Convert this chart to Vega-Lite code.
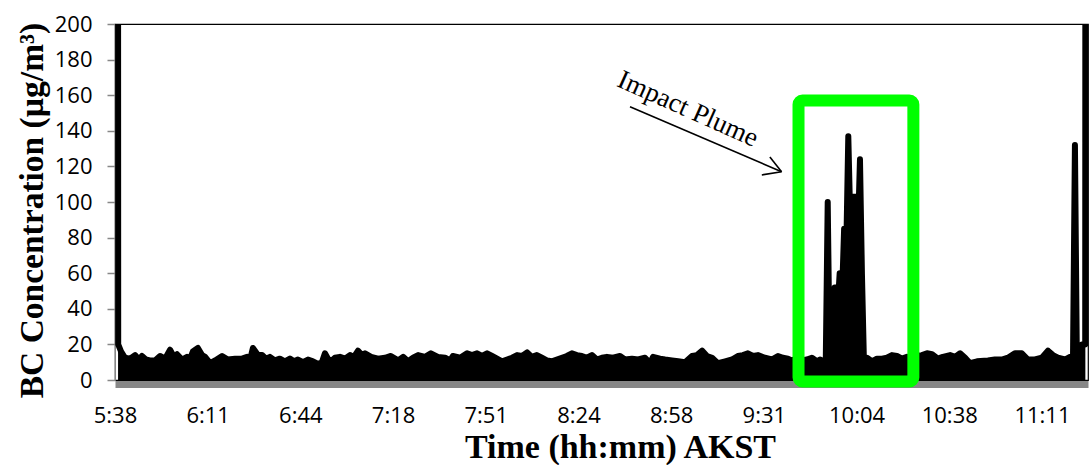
{
  "$schema": "https://vega.github.io/schema/vega-lite/v6.json",
  "width": 973,
  "height": 356,
  "autosize": {"type": "none"},
  "padding": {"left": 115, "top": 24, "right": 3, "bottom": 85},
  "background": "white",
  "config": {
    "view": {"stroke": "#000000", "strokeWidth": 1.2},
    "axis": {"grid": false}
  },
  "datasets": {
    "bc": [
      {"time": 339.1, "conc": 250}, {"time": 339.15, "conc": 20}, {"time": 340.2, "conc": 16}, {"time": 341.6, "conc": 12.5}, {"time": 343.4, "conc": 12},
      {"time": 345.2, "conc": 14}, {"time": 346.6, "conc": 11.5}, {"time": 347.7, "conc": 13.5}, {"time": 349.1, "conc": 11.5},
      {"time": 350.6, "conc": 11}, {"time": 352.4, "conc": 11}, {"time": 354.2, "conc": 13.5}, {"time": 356.0, "conc": 12},
      {"time": 357.8, "conc": 17}, {"time": 359.2, "conc": 13}, {"time": 360.3, "conc": 14.5}, {"time": 362.1, "conc": 11.5},
      {"time": 363.9, "conc": 13}, {"time": 365.0, "conc": 12}, {"time": 366.0, "conc": 16}, {"time": 367.8, "conc": 18},
      {"time": 369.3, "conc": 14}, {"time": 370.4, "conc": 13}, {"time": 372.2, "conc": 9.5}, {"time": 374.0, "conc": 11},
      {"time": 376.5, "conc": 13.5}, {"time": 378.6, "conc": 11.5}, {"time": 381.2, "conc": 12}, {"time": 383.7, "conc": 12},
      {"time": 385.5, "conc": 13}, {"time": 386.5, "conc": 11}, {"time": 387.6, "conc": 18}, {"time": 389.4, "conc": 14},
      {"time": 390.9, "conc": 14}, {"time": 392.3, "conc": 12}, {"time": 393.7, "conc": 13}, {"time": 395.5, "conc": 11},
      {"time": 397.3, "conc": 12}, {"time": 399.1, "conc": 10.5}, {"time": 400.9, "conc": 12}, {"time": 402.4, "conc": 10.5},
      {"time": 403.8, "conc": 11.5}, {"time": 405.6, "conc": 10}, {"time": 407.4, "conc": 11.5}, {"time": 409.2, "conc": 10.5},
      {"time": 411.0, "conc": 9}, {"time": 412.4, "conc": 10}, {"time": 413.5, "conc": 15}, {"time": 414.6, "conc": 12},
      {"time": 415.7, "conc": 10.5}, {"time": 417.1, "conc": 12.5}, {"time": 418.9, "conc": 13}, {"time": 420.7, "conc": 12},
      {"time": 422.5, "conc": 14}, {"time": 423.9, "conc": 13}, {"time": 425.4, "conc": 16.5}, {"time": 426.8, "conc": 14},
      {"time": 427.9, "conc": 15}, {"time": 430.1, "conc": 13}, {"time": 432.6, "conc": 12}, {"time": 435.1, "conc": 12.5},
      {"time": 437.2, "conc": 13.5}, {"time": 439.8, "conc": 11}, {"time": 441.6, "conc": 13}, {"time": 443.4, "conc": 10.5},
      {"time": 445.2, "conc": 12.5}, {"time": 447.0, "conc": 14}, {"time": 449.5, "conc": 13}, {"time": 451.6, "conc": 15},
      {"time": 454.1, "conc": 13}, {"time": 456.7, "conc": 12.5}, {"time": 458.5, "conc": 11}, {"time": 459.5, "conc": 13.5},
      {"time": 462.1, "conc": 12.5}, {"time": 464.6, "conc": 15}, {"time": 466.4, "conc": 14}, {"time": 468.2, "conc": 15},
      {"time": 470.0, "conc": 13.5}, {"time": 471.8, "conc": 15}, {"time": 473.6, "conc": 13.5}, {"time": 475.4, "conc": 12},
      {"time": 477.2, "conc": 10.5}, {"time": 479.0, "conc": 11.5}, {"time": 480.8, "conc": 12.5}, {"time": 482.6, "conc": 14},
      {"time": 484.4, "conc": 13.5}, {"time": 486.2, "conc": 15.5}, {"time": 487.9, "conc": 13}, {"time": 489.7, "conc": 14},
      {"time": 491.5, "conc": 12.5}, {"time": 493.3, "conc": 11}, {"time": 495.1, "conc": 10.5}, {"time": 496.9, "conc": 11.5},
      {"time": 498.7, "conc": 12.5}, {"time": 500.5, "conc": 13.5}, {"time": 502.3, "conc": 15}, {"time": 504.1, "conc": 14},
      {"time": 505.9, "conc": 13.5}, {"time": 507.7, "conc": 12.5}, {"time": 509.5, "conc": 14}, {"time": 511.3, "conc": 11.5},
      {"time": 513.1, "conc": 12.5}, {"time": 514.9, "conc": 13}, {"time": 517.1, "conc": 12.5}, {"time": 519.6, "conc": 13.5},
      {"time": 521.4, "conc": 11.5}, {"time": 523.9, "conc": 12}, {"time": 526.1, "conc": 11.5}, {"time": 528.6, "conc": 12.5},
      {"time": 530.4, "conc": 9.5}, {"time": 531.5, "conc": 13}, {"time": 534.0, "conc": 12}, {"time": 535.8, "conc": 11.5},
      {"time": 538.3, "conc": 11}, {"time": 540.5, "conc": 10.5}, {"time": 543.0, "conc": 10}, {"time": 545.5, "conc": 13.5},
      {"time": 547.3, "conc": 14}, {"time": 549.1, "conc": 16.5}, {"time": 550.9, "conc": 13.5}, {"time": 552.7, "conc": 12.5},
      {"time": 554.8, "conc": 9.5}, {"time": 557.4, "conc": 10.5}, {"time": 559.9, "conc": 11.5}, {"time": 562.0, "conc": 13.5},
      {"time": 563.8, "conc": 14}, {"time": 565.6, "conc": 15}, {"time": 567.4, "conc": 13.5}, {"time": 569.2, "conc": 14},
      {"time": 571.7, "conc": 12.5}, {"time": 574.2, "conc": 11.5}, {"time": 576.4, "conc": 13.5}, {"time": 578.2, "conc": 12.5},
      {"time": 580.0, "conc": 12}, {"time": 581.4, "conc": 11}, {"time": 583.2, "conc": 12}, {"time": 585.0, "conc": 11},
      {"time": 586.8, "conc": 11.5}, {"time": 588.6, "conc": 12.5}, {"time": 590.4, "conc": 10.5}, {"time": 591.5, "conc": 11.5},
      {"time": 592.9, "conc": 10.5}, {"time": 593.6, "conc": 11}, {"time": 594.3, "conc": 100}, {"time": 595.0, "conc": 11},
      {"time": 596.1, "conc": 11}, {"time": 596.8, "conc": 52}, {"time": 598.3, "conc": 52}, {"time": 598.6, "conc": 60},
      {"time": 599.7, "conc": 60}, {"time": 600.2, "conc": 85}, {"time": 601.1, "conc": 85}, {"time": 601.7, "conc": 137},
      {"time": 602.4, "conc": 90}, {"time": 602.8, "conc": 103}, {"time": 604.8, "conc": 103}, {"time": 605.3, "conc": 90},
      {"time": 605.9, "conc": 124}, {"time": 606.6, "conc": 60}, {"time": 607.3, "conc": 12}, {"time": 608.4, "conc": 12.5},
      {"time": 610.2, "conc": 10.5}, {"time": 612.0, "conc": 12}, {"time": 613.8, "conc": 12}, {"time": 615.6, "conc": 12.5},
      {"time": 617.4, "conc": 14}, {"time": 619.2, "conc": 13.5}, {"time": 621.0, "conc": 12}, {"time": 622.8, "conc": 13},
      {"time": 624.6, "conc": 12}, {"time": 626.4, "conc": 13.5}, {"time": 628.2, "conc": 14}, {"time": 630.0, "conc": 15},
      {"time": 631.8, "conc": 14.5}, {"time": 633.9, "conc": 12}, {"time": 635.7, "conc": 13}, {"time": 638.3, "conc": 14},
      {"time": 640.1, "conc": 13}, {"time": 641.9, "conc": 15}, {"time": 643.7, "conc": 12.5}, {"time": 645.4, "conc": 9.5},
      {"time": 648.0, "conc": 10.5}, {"time": 651.9, "conc": 11}, {"time": 654.4, "conc": 11.5}, {"time": 656.9, "conc": 11.5},
      {"time": 659.1, "conc": 12.5}, {"time": 661.6, "conc": 15}, {"time": 664.1, "conc": 15}, {"time": 666.3, "conc": 11.5},
      {"time": 668.8, "conc": 11.5}, {"time": 671.3, "conc": 12.5}, {"time": 673.5, "conc": 16.5}, {"time": 675.3, "conc": 14},
      {"time": 677.1, "conc": 12.5}, {"time": 679.6, "conc": 11.5}, {"time": 681.4, "conc": 13}, {"time": 682.5, "conc": 11},
      {"time": 683.2, "conc": 132}, {"time": 683.9, "conc": 11}, {"time": 685.0, "conc": 11}, {"time": 685.7, "conc": 20},
      {"time": 686.9, "conc": 20}, {"time": 686.95, "conc": 250}
    ],
    "box": [{"time": 583.8, "time2": 625.1, "conc": 157, "conc2": -0.8}],
    "arrow": [
      {"time": 523.2, "conc": 153.5, "time2": 577.7, "conc2": 117.0},
      {"time": 573.5, "conc": 125.3, "time2": 577.7, "conc2": 117.0},
      {"time": 570.6, "conc": 115.2, "time2": 577.7, "conc2": 117.0}
    ],
    "label": [{"time": 544.0, "conc": 152.2, "text": "Impact Plume"}]
  },
  "encoding": {
    "x": {
      "field": "time", "type": "quantitative",
      "scale": {"domain": [338, 687.9], "nice": false, "zero": false},
      "axis": {
        "title": "Time (hh:mm) AKST",
        "values": [338, 371.3333, 404.6667, 438, 471.3333, 504.6667, 538, 571.3333, 604.6667, 638, 671.3333],
        "labelExpr": "floor(datum.value/60) + ':' + (floor(datum.value%60) < 10 ? '0' : '') + floor(datum.value%60)",
        "labelFont": "Open Sans", "labelFontSize": 22, "labelColor": "#000000",
        "labelPadding": 21, "labelFlush": false, "labelOverlap": false,
        "ticks": false, "tickSize": 0,
        "domainColor": "#878787", "domainWidth": 7, "offset": 4,
        "titleFont": "Liberation Serif", "titleFontSize": 34, "titleFontWeight": "bold",
        "titleColor": "#000000", "titlePadding": 4, "titleX": 505
      }
    },
    "y": {
      "field": "conc", "type": "quantitative",
      "scale": {"domain": [0, 200], "nice": false},
      "axis": {
        "title": "BC Concentration (µg/m³)",
        "values": [0, 20, 40, 60, 80, 100, 120, 140, 160, 180, 200],
        "labelFont": "Open Sans", "labelFontSize": 22, "labelColor": "#000000",
        "labelPadding": 15, "labelOverlap": false, "labelFlush": false, "labelSeparation": 0,
        "tickColor": "#878787", "tickSize": 8, "tickWidth": 1.5,
        "domainColor": "#878787", "domainWidth": 1,
        "titleFont": "Liberation Serif", "titleFontSize": 33.5, "titleFontWeight": "bold",
        "titleColor": "#000000", "titlePadding": 5, "titleY": 186
      }
    }
  },
  "layer": [
    {
      "data": {"name": "bc"},
      "mark": {"type": "area", "color": "#000000", "clip": true, "interpolate": "linear"}
    },
    {
      "data": {"name": "bc"},
      "mark": {"type": "line", "color": "#000000", "strokeWidth": 6, "strokeJoin": "round", "strokeCap": "round", "clip": true}
    },
    {
      "data": {"name": "box"},
      "mark": {"type": "rect", "fill": null, "fillOpacity": 0, "stroke": "#00ff00", "strokeWidth": 12, "cornerRadius": 4},
      "encoding": {
        "x2": {"field": "time2"},
        "y2": {"field": "conc2"}
      }
    },
    {
      "data": {"name": "arrow"},
      "mark": {"type": "rule", "color": "#000000", "strokeWidth": 1.6},
      "encoding": {
        "x2": {"field": "time2"},
        "y2": {"field": "conc2"}
      }
    },
    {
      "data": {"name": "label"},
      "mark": {"type": "text", "font": "Liberation Serif", "fontSize": 27, "angle": 24, "align": "center", "baseline": "middle", "color": "#000000"},
      "encoding": {
        "text": {"field": "text"}
      }
    }
  ]
}
